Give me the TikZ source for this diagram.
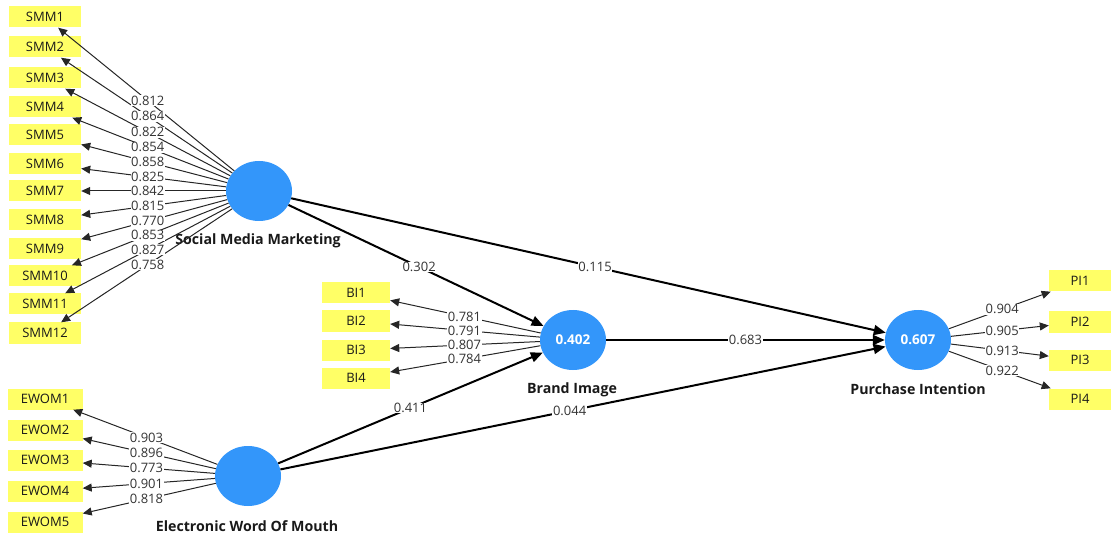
\documentclass[tikz,border=0pt]{standalone}
\usepackage{fontspec}
\setmainfont{Open Sans}
\usetikzlibrary{arrows.meta,shapes.geometric,calc}
\definecolor{lvblue}{RGB}{51,150,250}
\definecolor{mvyellow}{RGB}{255,255,102}
\tikzset{
  ind/.style={fill=mvyellow, minimum height=21pt, inner sep=0pt, font=\fontsize{13}{15}\selectfont, text=black!90},
  lv/.style={ellipse, fill=lvblue, minimum width=66pt, minimum height=60pt, inner sep=0pt, text=white, font=\bfseries\fontsize{13.5}{15}\selectfont},
  meas/.style={-{Triangle[length=9pt,width=8pt]}, line width=1pt, draw=black!85},
  struct/.style={-{Triangle[length=12pt,width=10pt]}, line width=2pt},
  lbl/.style={fill=white, inner sep=0.6pt, text=black!80, font=\fontsize{13}{14}\selectfont},
  lvname/.style={font=\bfseries\fontsize{14.2}{16}\selectfont, text=black!90}
}
\begin{document}
\begin{tikzpicture}[x=1pt,y=-1pt]
\useasboundingbox (0,0) rectangle (1111,537);
% latent variables
\node[lv] (smm) at (259,191) {};
\node[lv] (ewom) at (248,476) {};
\node[lv] (bi) at (573,340) {0.402};
\node[lv] (pi) at (918,340) {0.607};
\node[lvname] (smmname) at (258,241) {Social Media Marketing};
\node[lvname] (ewomname) at (247,526) {Electronic Word Of Mouth};
\node[lvname] (biname) at (572,390) {Brand Image};
\node[lvname] (piname) at (918,389) {Purchase Intention};
% indicators
\foreach \i/\y in {1/17,2/47,3/78,4/107,5/135,6/164,7/191,8/220,9/249,10/276,11/304,12/333}
  \node[ind, minimum width=72pt] (smm\i) at (45,\y) {SMM\i};
\foreach \i/\y in {1/399,2/430,3/460,4/491,5/522}
  \node[ind, minimum width=75pt] (ewom\i) at (45,\y) {EWOM\i};
\foreach \i/\y in {1/293,2/321,3/350,4/378}
  \node[ind, minimum width=68pt] (bi\i) at (356,\y) {BI\i};
\foreach \i/\y in {1/281,2/322,3/360,4/399}
  \node[ind, minimum width=62pt] (pi\i) at (1080,\y) {PI\i};
% measurement arrows
\foreach \i in {1,...,12} \draw[meas] (smm) -- (smm\i);
\foreach \i in {1,...,5} \draw[meas] (ewom) -- (ewom\i);
\foreach \i in {1,...,4} \draw[meas] (bi) -- (bi\i);
\foreach \i in {1,...,4} \draw[meas] (pi) -- (pi\i);
% loadings
\foreach \i/\v in {1/0.812,2/0.864,3/0.822,4/0.854,5/0.858,6/0.825,7/0.842,8/0.815,9/0.770,10/0.853,11/0.827,12/0.758}
  \node[lbl] (lsmm\i) at ($(smm)!0.52!(smm\i)$) {\v};
\foreach \i/\v in {1/0.903,2/0.896,3/0.773,4/0.901,5/0.818}
  \node[lbl] (lewom\i) at ($(ewom)!0.5!(ewom\i)$) {\v};
\foreach \i/\v in {1/0.781,2/0.791,3/0.807,4/0.784}
  \node[lbl] (lbi\i) at ($(bi)!0.5!(bi\i)$) {\v};
\foreach \i/\v in {1/0.904,2/0.905,3/0.913,4/0.922}
  \node[lbl] (lpi\i) at ($(pi)!0.52!(pi\i)$) {\v};
% structural paths
\draw[struct] (smm) -- (bi);
\draw[struct] (smm) -- (pi);
\draw[struct] (bi) -- (pi);
\draw[struct] (ewom) -- (bi);
\draw[struct] (ewom) -- (pi);
\node[lbl] (p1) at ($(smm)!0.51!(bi)$) {0.302};
\node[lbl] (p2) at ($(smm)!0.51!(pi)$) {0.115};
\node[lbl] (p3) at ($(bi)!0.5!(pi)$) {0.683};
\node[lbl] (p4) at ($(ewom)!0.5!(bi)$) {0.411};
\node[lbl] (p5) at ($(ewom)!0.48!(pi)$) {0.044};
\end{tikzpicture}
\end{document}
